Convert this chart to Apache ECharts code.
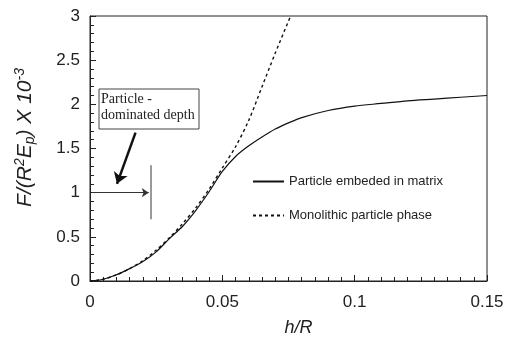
<!DOCTYPE html>
<html>
<head>
    <meta charset="UTF-8">
    <title>Indentation curves</title>
    <script src="https://cdn.jsdelivr.net/npm/echarts/dist/echarts.min.js"></script>
</head>
<body style="margin:0">
    <div id="chart" style="width: 515px;height:344px;"></div>
    <script type="text/javascript">
        var myChart = echarts.init(document.getElementById('chart'));

        // h/R values and normalised force
        var embeddedH = [0, 0.005, 0.01, 0.015, 0.02, 0.025, 0.03, 0.035, 0.04, 0.045, 0.05, 0.055, 0.06, 0.065, 0.07, 0.075, 0.08, 0.09, 0.1, 0.11, 0.12, 0.13, 0.14, 0.15];
        var embeddedF = [0, 0.02, 0.07, 0.14, 0.22, 0.33, 0.48, 0.62, 0.80, 1.01, 1.24, 1.41, 1.53, 1.63, 1.72, 1.79, 1.85, 1.93, 1.98, 2.01, 2.04, 2.06, 2.08, 2.10];
        var monoH = [0, 0.005, 0.01, 0.015, 0.02, 0.025, 0.03, 0.035, 0.04, 0.045, 0.05, 0.055, 0.06, 0.065, 0.07, 0.0758];
        var monoF = [0, 0.02, 0.07, 0.14, 0.23, 0.35, 0.49, 0.65, 0.83, 1.04, 1.28, 1.52, 1.82, 2.20, 2.58, 3.0];

        var xTicks = [0, 0.05, 0.1, 0.15];
        var yTicks = [0, 0.5, 1, 1.5, 2, 2.5, 3];

        function pairs(xs, ys) {
            return xs.map(function (x, i) { return [x, ys[i]]; });
        }

        var option = {
            animation: false,
            grid: {
                left: 90, right: 28, top: 16, bottom: 63,
                show: true, borderColor: '#222', borderWidth: 1
            },
            legend: {
                orient: 'vertical',
                left: 247, top: 170,
                itemWidth: 31, itemHeight: 14, itemGap: 21,
                itemStyle: { opacity: 0, borderWidth: 0 },
                textStyle: { fontFamily: 'Liberation Sans', fontSize: 13, color: '#222' },
                data: ['Particle embeded in matrix', 'Monolithic particle phase']
            },
            xAxis: {
                type: 'value',
                min: 0, max: 0.15, interval: 0.05,
                name: 'h/R',
                nameLocation: 'middle',
                nameGap: 38,
                nameTextStyle: { fontFamily: 'Liberation Sans', fontSize: 18, fontStyle: 'italic', color: '#222', padding: [0, 0, 0, 20] },
                axisLine: { lineStyle: { color: '#222' } },
                axisTick: { inside: true, length: 6, lineStyle: { color: '#222' } },
                minorTick: { show: true, splitNumber: 10, length: 4, lineStyle: { color: '#222' } },
                splitLine: { show: false },
                axisLabel: {
                    fontFamily: 'Liberation Sans', fontSize: 17, color: '#222', margin: 13,
                    formatter: function (v) { return xTicks.indexOf(v) >= 0 ? String(v) : ''; }
                }
            },
            yAxis: {
                type: 'value',
                min: 0, max: 3, interval: 0.5,
                name: '{n|F/(R}{sup|2}{n|E}{sub|p}{n|) X 10}{sup|-3}',
                nameLocation: 'middle',
                nameGap: 53,
                nameTextStyle: {
                    padding: [0, 0, 0, 22],
                    rich: {
                        n: { fontFamily: 'Liberation Sans', fontSize: 21, fontStyle: 'italic', color: '#222' },
                        sup: { fontFamily: 'Liberation Sans', fontSize: 14, fontStyle: 'italic', color: '#222', verticalAlign: 'top', padding: [0, 0, 10, 0] },
                        sub: { fontFamily: 'Liberation Sans', fontSize: 14, fontStyle: 'italic', color: '#222', verticalAlign: 'bottom', padding: [8, 0, 0, 0] }
                    }
                },
                axisLine: { show: true, lineStyle: { color: '#222' } },
                axisTick: { show: true, inside: true, length: 6, lineStyle: { color: '#222' } },
                minorTick: { show: true, splitNumber: 5, length: 4, lineStyle: { color: '#222' } },
                splitLine: { show: false },
                axisLabel: {
                    fontFamily: 'Liberation Sans', fontSize: 17, color: '#222', margin: 10,
                    formatter: function (v) { return yTicks.indexOf(v) >= 0 ? String(v) : ''; }
                }
            },
            series: [
                {
                    name: 'Particle embeded in matrix',
                    type: 'line',
                    smooth: 0.3,
                    symbol: 'none',
                    data: pairs(embeddedH, embeddedF),
                    lineStyle: { color: '#111', width: 1.2, type: 'solid' },
                    itemStyle: { color: '#111' },
                    markLine: {
                        silent: true,
                        symbol: 'none',
                        label: { show: false },
                        data: [
                            [
                                { coord: [0.0228, 1.31], lineStyle: { color: '#777', width: 1.5, type: 'solid' } },
                                { coord: [0.0228, 0.70] }
                            ]
                        ]
                    }
                },
                {
                    name: 'Monolithic particle phase',
                    type: 'line',
                    smooth: 0.3,
                    symbol: 'none',
                    data: pairs(monoH, monoF),
                    lineStyle: { color: '#111', width: 1.4, type: [3, 3] },
                    itemStyle: { color: '#111' },
                    markLine: {
                        silent: true,
                        symbol: ['none', 'arrow'],
                        label: { show: false },
                        data: [
                            [
                                { coord: [0.0008, 1.0], symbolSize: 7, lineStyle: { color: '#333', width: 1, type: 'solid' } },
                                { coord: [0.0222, 1.0], symbolSize: 7 }
                            ],
                            [
                                { coord: [0.0172, 1.68], symbolSize: 11, lineStyle: { color: '#111', width: 2.5, type: 'solid' } },
                                { coord: [0.0102, 1.10], symbolSize: 11 }
                            ]
                        ]
                    }
                }
            ],
            graphic: [
                {
                    type: 'rect',
                    shape: { x: 99, y: 89, width: 100, height: 40 },
                    style: { fill: '#fff', stroke: '#444', lineWidth: 1 }
                },
                {
                    type: 'text',
                    left: 101, top: 91,
                    style: {
                        text: 'Particle -\ndominated depth',
                        font: '14px "Liberation Serif"',
                        lineHeight: 16,
                        fill: '#222'
                    }
                }
            ]
        };

        myChart.setOption(option);
    </script>
</body>
</html>
